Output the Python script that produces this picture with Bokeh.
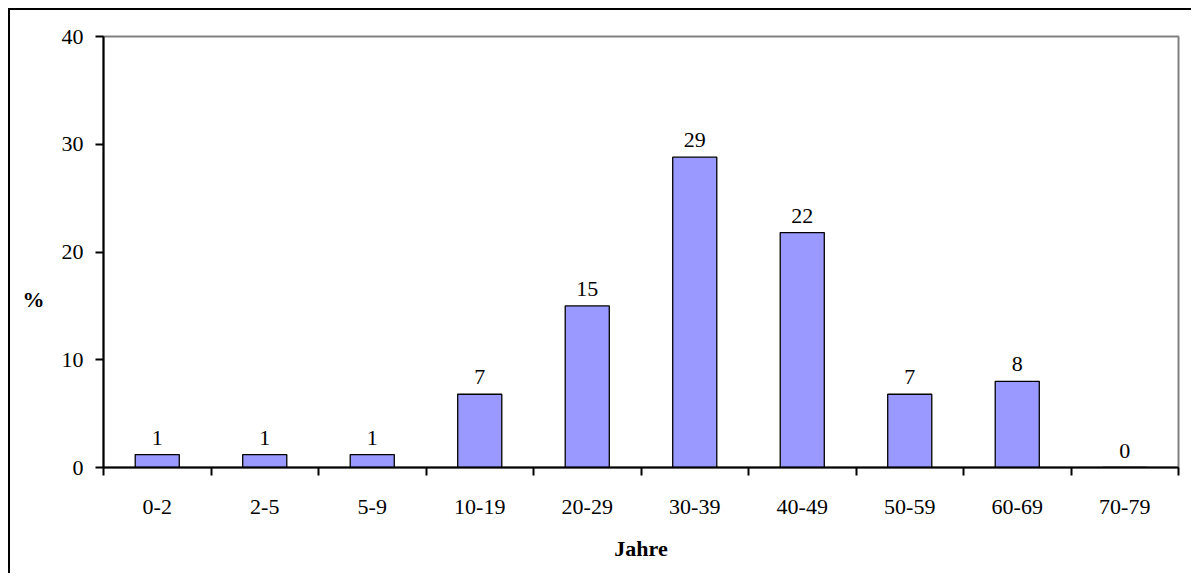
from bokeh.plotting import figure
from bokeh.models import Range1d, FixedTicker, LinearAxis
from bokeh.core.properties import value
from bokeh.embed import file_html
from bokeh.resources import INLINE

categories = ["0-2", "2-5", "5-9", "10-19", "20-29", "30-39", "40-49", "50-59", "60-69", "70-79"]
values = [1.2, 1.2, 1.2, 6.8, 15.0, 28.8, 21.8, 6.8, 8.0, 0.0]
value_labels = ["1", "1", "1", "7", "15", "29", "22", "7", "8", "0"]
y_ticks = [0, 10, 20, 30, 40]
y_title = "%"
x_title = "Jahre"
y_title_pos = 15.6

FONT = "Liberation Serif"
FS = "22px"

n = len(categories)
xs = [i + 0.5 for i in range(n)]

p = figure(width=1183, height=565, output_backend="svg", toolbar_location=None,
           x_range=Range1d(0, n), y_range=Range1d(0, 40),
           min_border_left=93, min_border_right=15, min_border_top=26, min_border_bottom=108)
p.styles = {"margin-left": "8px", "margin-top": "8px",
            "border-left": "2px solid black", "border-top": "2px solid black",
            "border-right": "none", "border-bottom": "none"}
p.xgrid.visible = False
p.ygrid.visible = False
p.outline_line_color = "#808080"
p.outline_line_width = 2
p.background_fill_color = "white"
p.border_fill_color = "white"

p.vbar(x=xs, width=0.41, top=values, fill_color="#9999FF", line_color="black", line_width=1.3)
p.text(x=xs, y=values, text=value_labels, text_align="center", text_baseline="alphabetic",
       y_offset=-17, text_font=value(FONT), text_font_size=FS, text_color="black")

# x axis
xa = p.xaxis[0]
xa.ticker = FixedTicker(ticks=xs, minor_ticks=list(range(n + 1)))
xa.major_label_overrides = {x: c for x, c in zip(xs, categories)}
xa.major_tick_out = 0
xa.major_tick_in = 0
xa.minor_tick_out = 8
xa.minor_tick_in = 0
xa.minor_tick_line_color = "black"
xa.minor_tick_line_width = 2
xa.axis_line_color = "black"
xa.axis_line_width = 2
xa.major_label_standoff = 24
xa.major_label_text_font = FONT
xa.major_label_text_font_size = FS
xa.major_label_text_color = "black"
xa.axis_label = x_title
xa.axis_label_text_font = FONT
xa.axis_label_text_font_size = FS
xa.axis_label_text_font_style = "bold"
xa.axis_label_text_color = "black"
xa.axis_label_standoff = 19

# y axis
ya = p.yaxis[0]
ya.ticker = FixedTicker(ticks=y_ticks, minor_ticks=[])
ya.major_tick_out = 8
ya.major_tick_in = 0
ya.major_tick_line_color = "black"
ya.major_tick_line_width = 2
ya.axis_line_color = "black"
ya.axis_line_width = 2
ya.major_label_standoff = 12
ya.major_label_text_font = FONT
ya.major_label_text_font_size = FS
ya.major_label_text_color = "black"

# horizontal y-axis title, drawn as the single label of an outer axis
ta = LinearAxis(ticker=FixedTicker(ticks=[y_title_pos], minor_ticks=[]),
                major_label_overrides={y_title_pos: y_title})
ta.axis_line_color = None
ta.major_tick_line_color = None
ta.minor_tick_line_color = None
ta.major_tick_out = 0
ta.major_tick_in = 0
ta.major_label_standoff = 14
ta.major_label_text_font = FONT
ta.major_label_text_font_size = FS
ta.major_label_text_font_style = "bold"
ta.major_label_text_color = "black"
p.add_layout(ta, "left")

open("out.html", "w").write(file_html(p, INLINE))
